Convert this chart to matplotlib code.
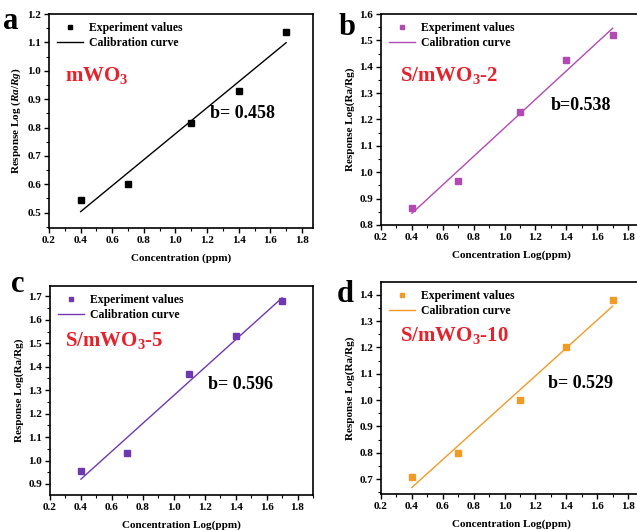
import numpy as np
import matplotlib
matplotlib.use('Agg')
import matplotlib.pyplot as plt
from matplotlib.ticker import AutoMinorLocator, MultipleLocator, FormatStrFormatter

plt.rcParams['font.family'] = ['Liberation Serif', 'DejaVu Serif']
plt.rcParams['font.weight'] = 'bold'
plt.rcParams['mathtext.fontset'] = 'custom'
plt.rcParams['mathtext.rm'] = 'Liberation Serif:bold'
plt.rcParams['mathtext.it'] = 'Liberation Serif:italic:bold'
plt.rcParams['mathtext.bf'] = 'Liberation Serif:bold'

# concentration (log ppm) and responses
conc = [0.4, 0.7, 1.1, 1.4, 1.7]
resp_a = [0.545, 0.602, 0.815, 0.930, 1.137]
resp_b = [0.863, 0.965, 1.230, 1.425, 1.520]
resp_c = [0.955, 1.030, 1.370, 1.530, 1.680]
resp_d = [0.707, 0.800, 1.000, 1.203, 1.380]

slopes = ['b= 0.458', 'b=0.538', 'b= 0.596', 'b= 0.529']
names = ['mWO$_3$', 'S/mWO$_3$-2', 'S/mWO$_3$-5', 'S/mWO$_3$-10']
letters = ['a', 'b', 'c', 'd']
colors = ['black', '#b24ab4', '#7038b0', '#f29a26']
xlabels = ['Concentration (ppm)', 'Concentration Log(ppm)',
           'Concentration Log(ppm)', 'Concentration Log(ppm)']
ylabels = ['Response Log ($\\mathit{Ra/Rg}$)', 'Response Log(Ra/Rg)',
           'Response Log(Ra/Rg)', 'Response Log(Ra/Rg)']

W, H = 637, 530
fig = plt.figure(figsize=(W / 100, H / 100), dpi=100)

# axes boxes in pixels: left, top, right, bottom
boxes = [(49, 14, 313, 228), (381, 14, 642, 225),
         (50, 286, 313, 495), (381, 282, 642, 494)]
xlims = [(0.2, 1.87), (0.2, 1.89), (0.2, 1.9), (0.2, 1.89)]
ylims = [(0.446, 1.2), (0.8, 1.6), (0.853, 1.744), (0.644, 1.448)]
name_pos = [(0.06, 0.687), (0.073, 0.684), (0.057, 0.713), (0.074, 0.72)]
slope_pos = [(0.61, 0.514), (0.65, 0.545), (0.60, 0.507), (0.64, 0.50)]
letter_pos = [(3, 29), (339, 35), (11, 292), (337, 302)]

data = [resp_a, resp_b, resp_c, resp_d]

for i in range(4):
    l, t, r, b = boxes[i]
    ax = fig.add_axes([l / W, 1 - b / H, (r - l) / W, (b - t) / H])
    x = np.array(conc)
    y = np.array(data[i])
    m, c0 = np.polyfit(x, y, 1)
    ax.plot(x, y, 's', color=colors[i], ms=4.5, label='Experiment values')
    ax.plot(x, m * x + c0, '-', color=colors[i], lw=1.0, label='Calibration curve')

    ax.set_xlim(*xlims[i])
    ax.set_ylim(*ylims[i])
    ax.xaxis.set_major_locator(MultipleLocator(0.2))
    ax.yaxis.set_major_locator(MultipleLocator(0.1))
    ax.xaxis.set_minor_locator(AutoMinorLocator(2))
    ax.yaxis.set_minor_locator(AutoMinorLocator(2))
    ax.xaxis.set_major_formatter(FormatStrFormatter('%.1f'))
    ax.yaxis.set_major_formatter(FormatStrFormatter('%.1f'))
    ax.tick_params(which='major', direction='out', length=3.5, width=1.0,
                   labelsize=8, pad=2)
    ax.tick_params(which='minor', direction='out', length=2, width=0.8)
    for lab in ax.get_xticklabels() + ax.get_yticklabels():
        lab.set_fontweight('bold')
    for sp in ax.spines.values():
        sp.set_linewidth(1.2)

    ax.set_xlabel(xlabels[i], fontsize=8, fontweight='bold', labelpad=6)
    ax.set_ylabel(ylabels[i], fontsize=8, fontweight='bold', labelpad=3)

    ax.legend(loc='upper left', frameon=False, markerscale=0.75,
              handlelength=2.2, handletextpad=0.5, labelspacing=0.25,
              borderaxespad=0.3, prop={'weight': 'bold', 'size': 8.5})

    ax.text(name_pos[i][0], name_pos[i][1], names[i], transform=ax.transAxes,
            color='#e8202a', fontsize=15, fontweight='bold')
    ax.text(slope_pos[i][0], slope_pos[i][1], slopes[i], transform=ax.transAxes,
            color='black', fontsize=13, fontweight='bold')

    fig.text(letter_pos[i][0] / W, 1 - letter_pos[i][1] / H, letters[i],
             fontsize=22, fontweight='bold', color='black')

fig.savefig('out.png', dpi=100)
